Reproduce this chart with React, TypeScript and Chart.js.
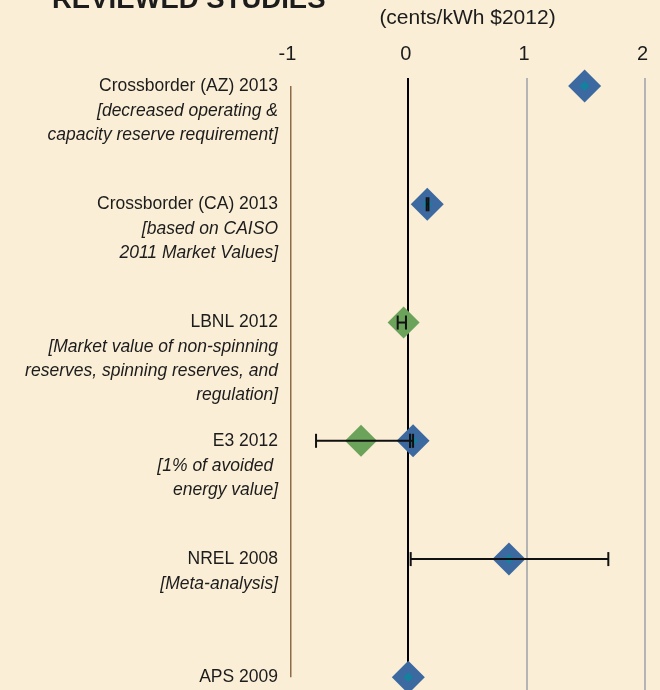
import React, { useEffect, useRef } from 'react';
import { Chart, registerables } from 'chart.js';

Chart.register(...registerables);

// ---- data ----
const studyNames = [
  'Crossborder (AZ) 2013',
  'Crossborder (CA) 2013',
  'LBNL 2012',
  'E3 2012',
  'NREL 2008',
  'APS 2009',
];
const studyNotes = [
  ['[decreased operating &', 'capacity reserve requirement]'],
  ['[based on CAISO', '2011 Market Values]'],
  ['[Market value of non-spinning', 'reserves, spinning reserves, and', 'regulation]'],
  ['[1% of avoided ', 'energy value]'],
  ['[Meta-analysis]'],
  [],
];
const xTicks = [-1, 0, 1, 2];

const blueStudy = [0, 1, 3, 4, 5];
const blueValue = [1.49, 0.16, 0.04, 0.85, 0.0];
const blueLow: (number | null)[] = [null, 0.155, 0.015, 0.02, null];
const blueHigh: (number | null)[] = [null, 0.17, 0.04, 1.69, null];

const greenStudy = [2, 3];
const greenValue = [-0.04, -0.4];
const greenLow = [-0.09, -0.78];
const greenHigh = [-0.02, 0.015];

// ---- style ----
const FONT = '"Liberation Sans", Arial, Helvetica, sans-serif';
const BG = '#faeed6';
const BLUE = '#3b69a0';
const TEAL = '#16809f';
const GREEN = '#6ba35b';
const TEXT = '#1c1c1c';
const BAR = '#111111';

const CANVAS_W = 660;
const CANVAS_H = 731;
const CANVAS_TOP = -30;

const padNotes = (n: string[]) => {
  const out = n.slice();
  while (out.length < 3) out.push('');
  return out;
};

const errorSet = (lo: number, hi: number, s: number) => ({
  label: 'err',
  data: [
    { x: lo, y: s },
    { x: hi, y: s },
  ],
  showLine: true,
  borderColor: BAR,
  borderWidth: 2,
  pointStyle: 'line',
  pointRotation: 90,
  pointRadius: 7,
  pointBorderColor: BAR,
  pointBorderWidth: 2,
  pointBackgroundColor: BAR,
  clip: false,
});

const noPad = (s: any) => {
  s.paddingTop = 0;
  s.paddingBottom = 0;
  s.paddingLeft = 0;
  s.paddingRight = 0;
};

const decorPlugin = {
  id: 'decor',
  afterLayout(chart: any) {
    // let the italic note axis share the label column of the name axis
    const y = chart.scales.y;
    const y2 = chart.scales.y2;
    if (y && y2) {
      y2.left = y.left;
      y2.width = y2.right - y2.left;
    }
  },
  beforeDatasetsDraw(chart: any) {
    const { ctx, chartArea, scales } = chart;
    const ys = scales.y;
    ctx.save();
    ctx.strokeStyle = '#8c6b46';
    ctx.lineWidth = 1.5;
    ctx.beginPath();
    ctx.moveTo(chartArea.left + 0.75, ys.getPixelForValue(0));
    ctx.lineTo(chartArea.left + 0.75, ys.getPixelForValue(studyNames.length - 1));
    ctx.stroke();
    ctx.restore();
  },
  afterDraw(chart: any) {
    const { ctx } = chart;
    ctx.save();
    ctx.font = 'bold 27.5px ' + FONT;
    ctx.fillStyle = TEXT;
    ctx.textAlign = 'left';
    ctx.textBaseline = 'alphabetic';
    ctx.fillText('REVIEWED STUDIES', 52, 38);
    ctx.restore();
  },
};

export default function App() {
  const ref = useRef<HTMLCanvasElement>(null);

  useEffect(() => {
    const datasets: any[] = [];
    blueStudy.forEach((s, i) => {
      const lo = blueLow[i];
      const hi = blueHigh[i];
      if (lo !== null && hi !== null) datasets.push(errorSet(lo, hi, s));
    });
    greenStudy.forEach((s, i) => datasets.push(errorSet(greenLow[i], greenHigh[i], s)));
    datasets.push({
      label: 'center',
      data: blueStudy.map((s, i) => ({ x: blueValue[i], y: s })),
      pointStyle: 'rectRot',
      pointRadius: 5,
      pointBackgroundColor: TEAL,
      pointBorderWidth: 0,
      showLine: false,
      clip: false,
    });
    datasets.push({
      label: 'blue',
      data: blueStudy.map((s, i) => ({ x: blueValue[i], y: s })),
      pointStyle: 'rectRot',
      pointRadius: 16.5,
      pointBackgroundColor: BLUE,
      pointBorderWidth: 0,
      showLine: false,
      clip: false,
    });
    datasets.push({
      label: 'green',
      data: greenStudy.map((s, i) => ({ x: greenValue[i], y: s })),
      pointStyle: 'rectRot',
      pointRadius: 16,
      pointBackgroundColor: GREEN,
      pointBorderWidth: 0,
      showLine: false,
      clip: false,
    });

    const yBase = {
      type: 'linear',
      axis: 'y',
      position: 'left',
      min: 0,
      max: 5.2,
      reverse: true,
      afterBuildTicks: (s: any) => {
        s.ticks = studyNames.map((_, i) => ({ value: i }));
      },
      grid: { display: false, drawTicks: false },
      border: { display: false },
    };

    const chart = new Chart(ref.current as HTMLCanvasElement, {
      type: 'scatter',
      data: { datasets },
      options: {
        responsive: false,
        animation: false,
        events: [],
        layout: { autoPadding: false, padding: { left: 0, right: 15, top: 0, bottom: 0 } },
        plugins: {
          legend: { display: false },
          tooltip: { enabled: false },
          title: { display: false },
        },
        scales: {
          x: {
            type: 'linear',
            position: 'top',
            min: -1,
            max: 2,
            z: 1,
            afterBuildTicks: (s: any) => {
              s.ticks = xTicks.map((v) => ({ value: v }));
            },
            afterFit: (s: any) => {
              s.height = 116;
              noPad(s);
            },
            ticks: {
              font: { family: FONT, size: 20 },
              color: TEXT,
              padding: 12,
              labelOffset: -2.5,
              callback: (v: any) => String(v),
            },
            grid: {
              color: (c: any) =>
                c.tick && c.tick.value === 0
                  ? '#000000'
                  : c.tick && c.tick.value === -1
                  ? 'rgba(0,0,0,0)'
                  : '#b4b4b4',
              lineWidth: 2,
              tickLength: 8,
              drawTicks: true,
            },
            border: { display: false },
            title: {
              display: true,
              text: '(cents/kWh $2012)',
              font: { family: FONT, size: 21 },
              color: TEXT,
              padding: { top: 36, bottom: 0 },
            },
          },
          y: {
            ...yBase,
            weight: 1,
            afterFit: (s: any) => {
              s.width = 290;
              noPad(s);
            },
            ticks: {
              autoSkip: false,
              padding: 12,
              font: { family: FONT, size: 17.5 },
              color: TEXT,
              callback: (v: any) => studyNames[v] ?? '',
            },
          },
          y2: {
            ...yBase,
            weight: 0,
            afterFit: (s: any) => {
              s.width = 0;
              noPad(s);
            },
            ticks: {
              autoSkip: false,
              padding: 12,
              labelOffset: 49,
              font: { family: FONT, size: 17.5, style: 'italic', lineHeight: '24px' },
              color: TEXT,
              callback: (v: any) => padNotes(studyNotes[v] ?? []),
            },
          },
        } as any,
      },
      plugins: [decorPlugin],
    } as any);
    return () => chart.destroy();
  }, []);

  return (
    <div
      style={{
        position: 'fixed',
        left: 0,
        top: 0,
        width: CANVAS_W,
        height: 690,
        overflow: 'hidden',
        background: BG,
      }}
    >
      <canvas
        ref={ref}
        width={CANVAS_W}
        height={CANVAS_H}
        style={{ position: 'absolute', left: 0, top: CANVAS_TOP, width: CANVAS_W, height: CANVAS_H }}
      />
    </div>
  );
}
